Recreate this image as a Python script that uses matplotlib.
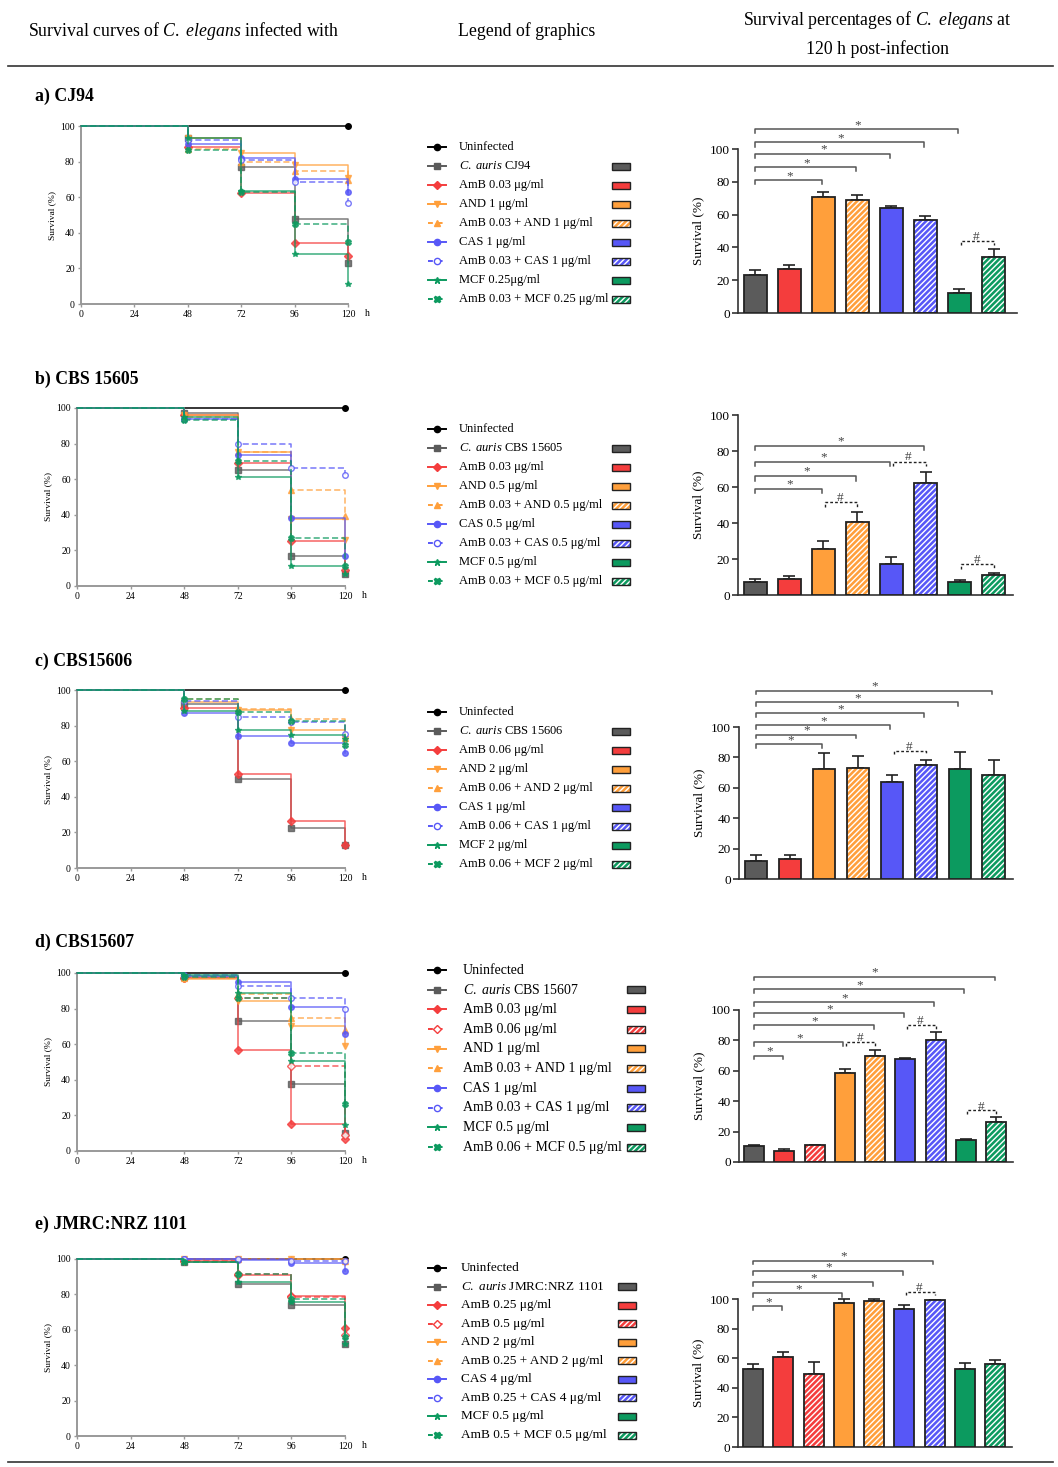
import numpy as np
import matplotlib.pyplot as plt
from matplotlib.patches import Rectangle

plt.rcParams['font.family'] = ['Liberation Serif', 'DejaVu Serif']
plt.rcParams['mathtext.fontset'] = 'custom'
plt.rcParams['mathtext.rm'] = 'Liberation Serif'
plt.rcParams['mathtext.it'] = 'Liberation Serif:italic'
plt.rcParams['hatch.linewidth'] = 1.0

CA = r'$\mathit{C.}$ $\mathit{auris}$'

# ---------------- data ----------------
times = [0, 48, 72, 96, 120]

# a) CJ94
a_groups = ['unf', 'ca', 'amb', 'and', 'amb_and', 'cas', 'amb_cas', 'mcf', 'amb_mcf']
a_labels = ['Uninfected', CA + ' CJ94', 'AmB 0.03 μg/ml', 'AND 1 μg/ml',
            'AmB 0.03 + AND 1 μg/ml', 'CAS 1 μg/ml', 'AmB 0.03 + CAS 1 μg/ml',
            'MCF 0.25μg/ml', 'AmB 0.03 + MCF 0.25 μg/ml']
a_curves = [[100, 100, 100, 100, 100],
            [100, 93, 77, 47.5, 23],
            [100, 88, 62.5, 34, 27],
            [100, 93, 85, 78, 71],
            [100, 87, 80, 75, 69.5],
            [100, 90, 82, 70, 63],
            [100, 92, 81, 68.5, 57],
            [100, 93.5, 63.5, 28, 11.5],
            [100, 86.5, 63, 45, 35]]
a_bars = [23, 27, 70.5, 69, 64, 57, 12, 34]
a_err = [3, 2.5, 3, 3, 1, 2, 2.5, 5]
a_stars = [(0, 2, 81), (0, 3, 89), (0, 4, 97), (0, 5, 104), (0, 6, 112)]
a_hash = [(6, 7, 44)]

# b) CBS 15605
b_groups = a_groups
b_labels = ['Uninfected', CA + ' CBS 15605', 'AmB 0.03 μg/ml', 'AND 0.5 μg/ml',
            'AmB 0.03 + AND 0.5 μg/ml', 'CAS 0.5 μg/ml', 'AmB 0.03 + CAS 0.5 μg/ml',
            'MCF 0.5 μg/ml', 'AmB 0.03 + MCF 0.5 μg/ml']
b_curves = [[100, 100, 100, 100, 100],
            [100, 97, 65, 17, 7],
            [100, 96, 69, 25, 9],
            [100, 96, 75, 37.5, 26],
            [100, 95, 75.5, 54, 39.5],
            [100, 94, 73.5, 38, 17],
            [100, 94, 80, 66.5, 62.5],
            [100, 95, 61, 11, 7],
            [100, 93, 70.5, 27, 11]]
b_bars = [7.5, 9, 25.5, 40.5, 17, 62, 7, 11]
b_err = [1.5, 1.5, 4.5, 5.5, 4, 6.5, 1.5, 1]
b_stars = [(0, 2, 59), (0, 3, 66), (0, 4, 74), (0, 5, 83)]
b_hash = [(2, 3, 51.5), (4, 5, 74), (6, 7, 17)]

# c) CBS15606
c_groups = a_groups
c_labels = ['Uninfected', CA + ' CBS 15606', 'AmB 0.06 μg/ml', 'AND 2 μg/ml',
            'AmB 0.06 + AND 2 μg/ml', 'CAS 1 μg/ml', 'AmB 0.06 + CAS 1 μg/ml',
            'MCF 2 μg/ml', 'AmB 0.06 + MCF 2 μg/ml']
c_curves = [[100, 100, 100, 100, 100],
            [100, 92, 50, 22.5, 13],
            [100, 90, 53, 26.5, 13],
            [100, 93, 89, 77.5, 72.5],
            [100, 95, 89.5, 83.5, 73],
            [100, 87, 74, 70, 64.5],
            [100, 94, 85, 82, 75.5],
            [100, 88, 77.5, 74.5, 72.5],
            [100, 95, 87.5, 82.5, 69]]
c_bars = [12, 13, 72.5, 73, 64, 75, 72.5, 68.5]
c_err = [3.5, 3, 10.5, 8, 4.5, 3, 11, 10]
c_stars = [(0, 2, 88.5), (0, 3, 95), (0, 4, 101.5), (0, 5, 109), (0, 6, 116.5), (0, 7, 124)]
c_hash = [(4, 5, 84.5)]

# d) CBS15607
d_groups = ['unf', 'ca', 'amb', 'amb2', 'and', 'amb_and', 'cas', 'amb_cas', 'mcf', 'amb_mcf']
d_labels = ['Uninfected', CA + ' CBS 15607', 'AmB 0.03 μg/ml', 'AmB 0.06 μg/ml',
            'AND 1 μg/ml', 'AmB 0.03 + AND 1 μg/ml', 'CAS 1 μg/ml', 'AmB 0.03 + CAS 1 μg/ml',
            'MCF 0.5 μg/ml', 'AmB 0.06 + MCF 0.5 μg/ml']
d_curves = [[100, 100, 100, 100, 100],
            [100, 98, 73, 37.5, 10],
            [100, 97, 57, 15, 6.5],
            [100, 97, 86, 47.5, 9],
            [100, 96.5, 84, 70, 59],
            [100, 97, 88, 75, 68],
            [100, 98.5, 95, 81, 66],
            [100, 99, 92.5, 86, 80],
            [100, 99, 89, 50.5, 14.5],
            [100, 98, 86, 55, 26.5]]
d_bars = [10.5, 7, 11, 58.5, 69.5, 67.5, 80, 14.5, 26.5]
d_err = [0.5, 1.5, 0.5, 3, 4.5, 1, 5.5, 0.8, 3]
d_stars = [(0, 1, 70), (0, 3, 79), (0, 4, 90), (0, 5, 98), (0, 6, 105), (0, 7, 114), (0, 8, 122)]
d_hash = [(3, 4, 79), (5, 6, 90), (7, 8, 34)]

# e) JMRC:NRZ 1101
e_groups = d_groups
e_labels = ['Uninfected', CA + ' JMRC:NRZ 1101', 'AmB 0.25 μg/ml', 'AmB 0.5 μg/ml',
            'AND 2 μg/ml', 'AmB 0.25 + AND 2 μg/ml', 'CAS 4 μg/ml', 'AmB 0.25 + CAS 4 μg/ml',
            'MCF 0.5 μg/ml', 'AmB 0.5 + MCF 0.5 μg/ml']
e_curves = [[100, 100, 100, 100, 100],
            [100, 98.5, 86, 74, 52],
            [100, 99, 91, 79, 61],
            [100, 99, 91.5, 78.5, 57],
            [100, 100, 100, 100, 98.5],
            [100, 100, 100, 100, 99],
            [100, 100, 99.5, 98, 93.5],
            [100, 100, 100, 99, 99],
            [100, 98.5, 87, 75.5, 52],
            [100, 98.5, 91.5, 77.5, 56]]
e_bars = [52.5, 61, 49, 97.5, 98.5, 93, 99, 53, 56]
e_err = [3.5, 3, 8.5, 2.5, 1.5, 3, 0.5, 3.5, 3]
e_stars = [(0, 1, 95), (0, 3, 104), (0, 4, 111.5), (0, 5, 119), (0, 6, 126)]
e_hash = [(5, 6, 105)]

# ---------------- styles ----------------
GRAY, RED, ORANGE, BLUE, GREEN = '#5b5b5b', '#f43d3d', '#ff9f3b', '#5757f7', '#0c9a5f'
styles = {
    'unf':     dict(c='black', m='o', ls='-', mfc=None, hatch=False),
    'ca':      dict(c=GRAY, m='s', ls='-', mfc=None, hatch=False),
    'amb':     dict(c=RED, m='D', ls='-', mfc=None, hatch=False),
    'amb2':    dict(c=RED, m='D', ls='--', mfc='white', hatch=True),
    'and':     dict(c=ORANGE, m='v', ls='-', mfc=None, hatch=False),
    'amb_and': dict(c=ORANGE, m='^', ls='--', mfc=None, hatch=True),
    'cas':     dict(c=BLUE, m='o', ls='-', mfc=None, hatch=False),
    'amb_cas': dict(c=BLUE, m='o', ls='--', mfc='white', hatch=True),
    'mcf':     dict(c=GREEN, m='*', ls='-', mfc=None, hatch=False),
    'amb_mcf': dict(c=GREEN, m='X', ls='--', mfc=None, hatch=True),
}

W, H = 1058, 1467
fig = plt.figure(figsize=(W / 100, H / 100), dpi=100)


def box(l, r, t, b):
    return [l / W, 1 - b / H, (r - l) / W, (b - t) / H]


ov = fig.add_axes([0, 0, 1, 1])
ov.set_xlim(0, W)
ov.set_ylim(H, 0)
ov.axis('off')

# header
ov.text(28, 31, r'Survival curves of $\mathit{C.}$ $\mathit{elegans}$ infected with', fontsize=12.8, va='center')
ov.text(458, 31, 'Legend of graphics', fontsize=12.8, va='center')
ov.text(877, 20, r'Survival percentages of $\mathit{C.}$ $\mathit{elegans}$ at', fontsize=12.8,
        va='center', ha='center')
ov.text(877, 49, '120 h post-infection', fontsize=12.8, va='center', ha='center')
ov.plot([8, 1053], [66, 66], color='#333333', lw=1.2)
ov.plot([8, 1053], [1462, 1462], color='#333333', lw=1.2)


def survival(pos, groups, curves):
    ax = fig.add_axes(box(*pos))
    for g, v in zip(groups, curves):
        s = styles[g]
        ls = '-' if s['ls'] == '-' else (0, (4, 2))
        ax.plot(times, v, drawstyle='steps-post', color=s['c'], ls=ls, lw=1.1,
                alpha=1 if g == 'unf' else 0.8, marker=s['m'], ms=4,
                mfc=s['mfc'] if s['mfc'] else s['c'], mec=s['c'],
                markevery=[4] if g == 'unf' else [1, 2, 3, 4], clip_on=False, zorder=3)
    ax.set_xlim(0, 120)
    ax.set_ylim(0, 100)
    ax.set_xticks(times[:1] + [24] + times[1:])
    ax.set_yticks(range(0, 101, 20))
    for sp in ['top', 'right']:
        ax.spines[sp].set_visible(False)
    for sp in ['left', 'bottom']:
        ax.spines[sp].set_color('#999999')
        ax.spines[sp].set_linewidth(1.4)
    ax.tick_params(labelsize=7, length=2.5, width=1, color='#999999', pad=2)
    ax.set_ylabel('Survival (%)', fontsize=6.8, labelpad=3)
    ax.text(1.065, -0.055, 'h', transform=ax.transAxes, fontsize=7, va='center')
    ax.patch.set_alpha(0)
    return ax


def bracket(ax, i, j, y, sym, dashed):
    d = 2.5
    if dashed:
        ax.plot([i + 0.05, i + 0.05, j, j], [y - d, y, y, y - d], color='#222222', lw=1.0,
                ls=(0, (2, 1.5)), clip_on=False)
    else:
        ax.plot([i, i, j - 0.05, j - 0.05], [y - d, y, y, y - d], color='#555555', lw=1.1,
                clip_on=False)
    ax.text((i + j) / 2, y + 2.5, sym, ha='center', va='center', fontsize=9.5, color='#444444')


def barchart(pos, groups, vals, errs, stars, hashes, xr):
    ax = fig.add_axes(box(*pos))
    n = len(vals)
    x = np.arange(n)
    for i, g in enumerate(groups[1:]):
        s = styles[g]
        if s['hatch']:
            ax.bar(i, vals[i], 0.66, color=s['c'], hatch='//////', edgecolor='white', lw=0, zorder=2)
            ax.bar(i, vals[i], 0.66, fill=False, edgecolor='#222222', lw=1.3, zorder=3)
        else:
            ax.bar(i, vals[i], 0.66, color=s['c'], edgecolor='#222222', lw=1.3, zorder=3)
    ax.errorbar(x, vals, yerr=[np.zeros(n), errs], fmt='none', ecolor='#222222',
                elinewidth=1.2, capsize=4, capthick=1.2, zorder=1, clip_on=False)
    for i, j, y in stars:
        bracket(ax, i, j, y, '*', False)
    for i, j, y in hashes:
        bracket(ax, i, j, y, '#', True)
    ax.set_xlim(*xr)
    ax.set_ylim(0, 100)
    ax.set_xticks([])
    ax.set_yticks(range(0, 101, 20))
    for sp in ['top', 'right']:
        ax.spines[sp].set_visible(False)
    for sp in ['left', 'bottom']:
        ax.spines[sp].set_color('#333333')
        ax.spines[sp].set_linewidth(1.2)
    ax.tick_params(labelsize=9.5, length=4, width=1.2, color='#333333', pad=2)
    ax.set_ylabel('Survival (%)', fontsize=9.5, labelpad=4)
    ax.patch.set_alpha(0)
    return ax


def legend(groups, labels, y0, dy, tx, px, fs):
    for k, (g, lab) in enumerate(zip(groups, labels)):
        y = y0 + k * dy
        s = styles[g]
        ls = '-' if s['ls'] == '-' else (0, (2.5, 2.5))
        ov.plot([428, 446], [y, y], color=s['c'], ls=ls, lw=1.4)
        ov.plot([437], [y], marker=s['m'], ms=4.5, color=s['c'],
                mfc=s['mfc'] if s['mfc'] else s['c'], mec=s['c'])
        ov.text(tx, y, lab, va='center', fontsize=fs)
        if g != 'unf':
            if s['hatch']:
                ov.add_patch(Rectangle((px, y - 3.5), 18, 7, facecolor=s['c'], edgecolor='white',
                                       hatch='//////', lw=0))
                ov.add_patch(Rectangle((px, y - 3.5), 18, 7, fill=False, edgecolor='#222222', lw=1))
            else:
                ov.add_patch(Rectangle((px, y - 3.5), 18, 7, facecolor=s['c'], edgecolor='#222222', lw=1))


panels = [
    ('a) CJ94', 96, a_groups, a_labels, a_curves, a_bars, a_err, a_stars, a_hash,
     (81, 348, 126, 304), (738, 1017, 149, 313), (-0.51, 7.69), (147, 19, 459, 612, 9)),
    ('b) CBS 15605', 379, b_groups, b_labels, b_curves, b_bars, b_err, b_stars, b_hash,
     (77, 345, 408, 586), (738, 1013, 415, 595), (-0.51, 7.57), (429, 19, 459, 612, 9)),
    ('c) CBS15606', 661, c_groups, c_labels, c_curves, c_bars, c_err, c_stars, c_hash,
     (77, 345, 690, 868), (739, 1013, 727, 879), (-0.51, 7.57), (712, 19, 459, 612, 9)),
    ('d) CBS15607', 942, d_groups, d_labels, d_curves, d_bars, d_err, d_stars, d_hash,
     (77, 345, 973, 1151), (739, 1013, 1010, 1162), (-0.5, 8.56), (970, 19.67, 463, 627, 10)),
    ('e) JMRC:NRZ 1101', 1224, e_groups, e_labels, e_curves, e_bars, e_err, e_stars, e_hash,
     (77, 345, 1259, 1436), (738, 1012, 1299, 1447), (-0.5, 8.56), (1268, 18.56, 461, 618, 9.5)),
]

for (title, ty, groups, labels, curves, bars, err, stars, hashes,
     spos, bpos, xr, leg) in panels:
    ov.text(35, ty, title, fontsize=12.8, fontweight='bold', va='center')
    survival(spos, groups, curves)
    barchart(bpos, groups, bars, err, stars, hashes, xr)
    legend(groups, labels, *leg)

fig.savefig('out.png', dpi=100)
